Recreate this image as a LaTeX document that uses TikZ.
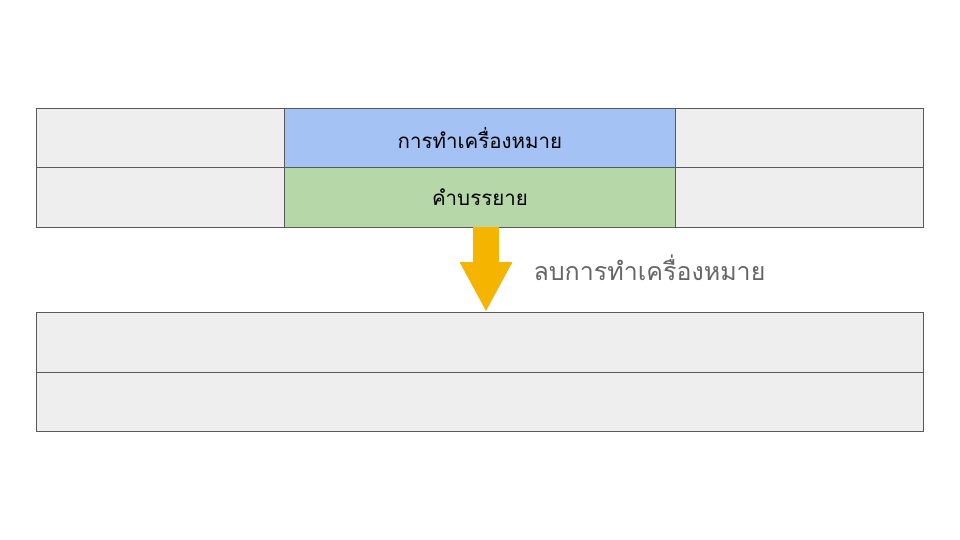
\documentclass[tikz,border=0pt]{standalone}
\usepackage{fontspec}
\newfontfamily\thaifont[Script=Thai]{Loma}
\usetikzlibrary{arrows.meta}
\definecolor{cellgray}{HTML}{EEEEEE}
\definecolor{linegray}{HTML}{595959}
\definecolor{markblue}{HTML}{A4C2F4}
\definecolor{capgreen}{HTML}{B6D7A8}
\definecolor{arrowgold}{HTML}{F4B400}
\definecolor{labelgray}{HTML}{666666}
\tikzset{cellbox/.style={draw=linegray, line width=0.8pt, fill=cellgray,
   anchor=north west, inner sep=0pt, font=\thaifont\fontsize{20.5}{24}\selectfont},
 markcell/.style={cellbox, fill=markblue},
 capcell/.style={cellbox, fill=capgreen},
 side/.style={minimum width=248pt},
 mid/.style={minimum width=391pt},
 wide/.style={minimum width=887pt},
 }

\begin{document}
\begin{tikzpicture}[x=1pt,y=-1pt]
        \useasboundingbox (0,0) rectangle (960,540);
        % top table
        \node[cellbox, side, minimum height=59pt] (a1) at (36,108) {};
        \node[markcell, mid, minimum height=59pt] (a2) at (284,108) {การทำเครื่องหมาย};
        \node[cellbox, side, minimum height=59pt] (a3) at (675,108) {};
        \node[cellbox, side, minimum height=60pt] (b1) at (36,167) {};
        \node[capcell, mid, minimum height=60pt] (b2) at (284,167) {คำบรรยาย};
        \node[cellbox, side, minimum height=60pt] (b3) at (675,167) {};
        % bottom table
        \node[cellbox, wide, minimum height=60pt] (c1) at (36,312) {};
        \node[cellbox, wide, minimum height=59pt] (d1) at (36,372) {};
        \coordinate (from) at (486,227);
        \coordinate (to) at (486,312);
        \draw[arrowgold, line width=26pt, -{Triangle[width=49pt,length=50pt]}] (from) -- (to);
        \node[anchor=west, text=labelgray, font=\thaifont\fontsize{25}{28}\selectfont] (lbl) at (530,268) {ลบการทำเครื่องหมาย};
    \end{tikzpicture}
\end{document}
